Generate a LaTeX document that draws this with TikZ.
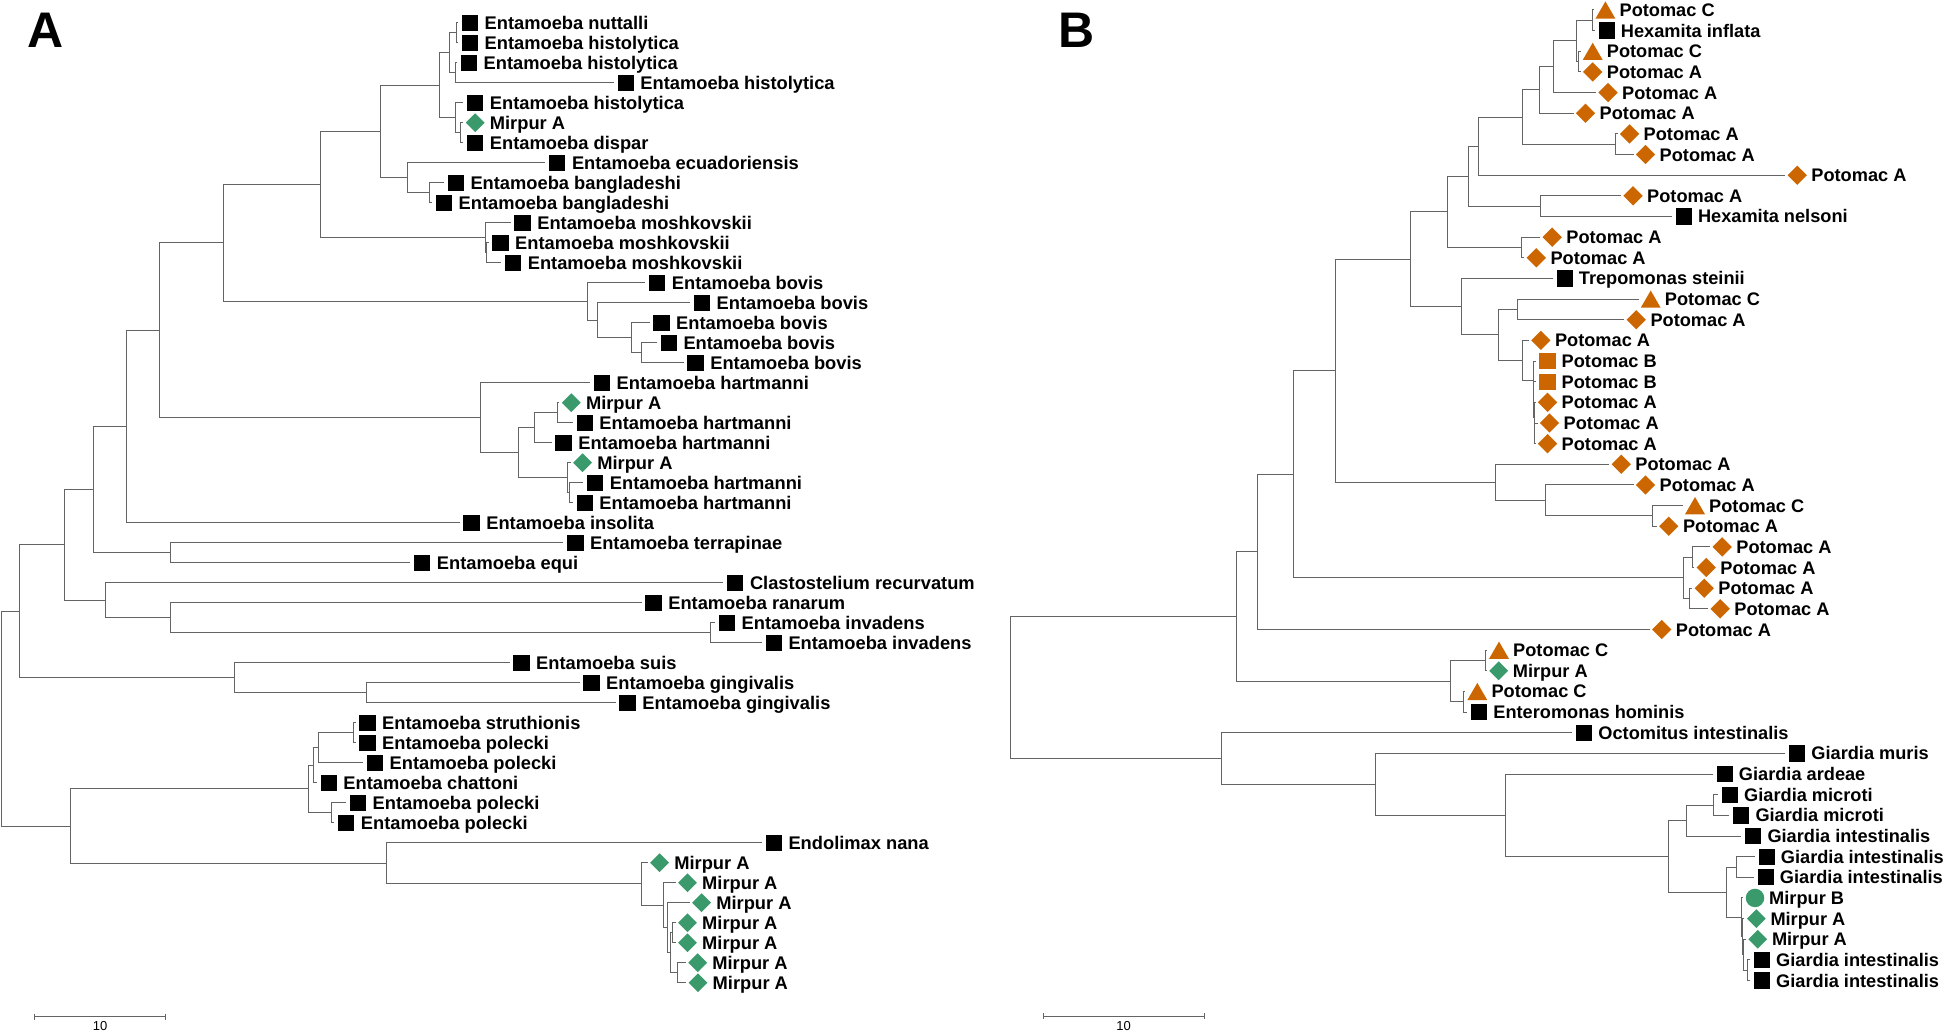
\documentclass[tikz,border=0pt]{standalone}
\usepackage{fontspec}
\setmainfont{Liberation Sans}
\usetikzlibrary{shapes.geometric}
\definecolor{grn}{RGB}{58,154,108}
\definecolor{org}{RGB}{204,102,0}
\definecolor{brc}{RGB}{100,100,100}
\tikzset{
  br/.style={draw=brc, line width=1pt},
  sqk/.style={rectangle, fill=black, minimum size=16.3pt, inner sep=0pt},
  sqo/.style={rectangle, fill=org, minimum size=16.3pt, inner sep=0pt},
  dmg/.style={diamond, fill=grn, minimum size=19pt, inner sep=0pt},
  dmo/.style={diamond, fill=org, minimum size=19.5pt, inner sep=0pt},
  tro/.style={regular polygon, regular polygon sides=3, fill=org, minimum size=23pt, inner sep=0pt, yshift=-2.9pt},
  cig/.style={circle, fill=grn, minimum size=18.5pt, inner sep=0pt},
  lblA/.style={anchor=base west, inner sep=0pt, font=\fontsize{18.3}{21}\selectfont\bfseries},
  lblB/.style={anchor=base west, inner sep=0pt, font=\fontsize{18.2}{21}\selectfont\bfseries},
  panel/.style={anchor=base west, inner sep=0pt, font=\fontsize{50}{50}\selectfont\bfseries},
  sclbl/.style={anchor=base, inner sep=0pt, font=\fontsize{13}{13}\selectfont}
}
\newcommand\leafA[5]{\coordinate (#1) at (#2,#3);
  \node[#4] (#1m) at ([xshift=12pt]#1) {};
  \node[lblA] (#1t) at ([xshift=26.5pt,yshift=-6.5pt]#1) {#5};}
\newcommand\leafB[5]{\coordinate (#1) at (#2,#3);
  \node[#4] (#1m) at ([xshift=12pt]#1) {};
  \node[lblB] (#1t) at ([xshift=26pt,yshift=-6.5pt]#1) {#5};}
\newcommand\IN[3]{\coordinate (#1) at (#2,#3);}
\newcommand\ED[2]{\foreach \ch in {#2} {\draw[br] (#1) |- (\ch);}}
\begin{document}
\begin{tikzpicture}[x=1pt,y=-1pt]
\useasboundingbox (0,0) rectangle (1946,1032);
% ---------------- Tree A ----------------
\node[panel] (labA) at (27,48) {A};
\leafA{a0}{458}{22.7}{sqk}{Entamoeba nuttalli}
\leafA{a1}{458}{42.7}{sqk}{Entamoeba histolytica}
\leafA{a2}{457}{62.7}{sqk}{Entamoeba histolytica}
\leafA{a3}{613.7}{82.7}{sqk}{Entamoeba histolytica}
\leafA{a4}{463.2}{102.7}{sqk}{Entamoeba histolytica}
\leafA{a5}{463.2}{122.7}{dmg}{Mirpur A}
\leafA{a6}{463.2}{142.7}{sqk}{Entamoeba dispar}
\leafA{a7}{545.3}{162.7}{sqk}{Entamoeba ecuadoriensis}
\leafA{a8}{443.8}{182.7}{sqk}{Entamoeba bangladeshi}
\leafA{a9}{432}{202.7}{sqk}{Entamoeba bangladeshi}
\leafA{a10}{510.6}{222.7}{sqk}{Entamoeba moshkovskii}
\leafA{a11}{488.5}{242.7}{sqk}{Entamoeba moshkovskii}
\leafA{a12}{501.1}{262.7}{sqk}{Entamoeba moshkovskii}
\leafA{a13}{645.2}{282.7}{sqk}{Entamoeba bovis}
\leafA{a14}{690}{302.7}{sqk}{Entamoeba bovis}
\leafA{a15}{649.5}{322.7}{sqk}{Entamoeba bovis}
\leafA{a16}{656.8}{342.7}{sqk}{Entamoeba bovis}
\leafA{a17}{683.6}{362.7}{sqk}{Entamoeba bovis}
\leafA{a18}{590}{382.7}{sqk}{Entamoeba hartmanni}
\leafA{a19}{559.3}{402.7}{dmg}{Mirpur A}
\leafA{a20}{572.7}{422.7}{sqk}{Entamoeba hartmanni}
\leafA{a21}{551.6}{442.7}{sqk}{Entamoeba hartmanni}
\leafA{a22}{570.6}{462.7}{dmg}{Mirpur A}
\leafA{a23}{583.2}{482.7}{sqk}{Entamoeba hartmanni}
\leafA{a24}{572.7}{502.7}{sqk}{Entamoeba hartmanni}
\leafA{a25}{459.6}{522.7}{sqk}{Entamoeba insolita}
\leafA{a26}{563.4}{542.7}{sqk}{Entamoeba terrapinae}
\leafA{a27}{410.2}{562.7}{sqk}{Entamoeba equi}
\leafA{a28}{723.3}{582.7}{sqk}{Clastostelium recurvatum}
\leafA{a29}{641.6}{602.7}{sqk}{Entamoeba ranarum}
\leafA{a30}{715}{622.7}{sqk}{Entamoeba invadens}
\leafA{a31}{761.8}{642.7}{sqk}{Entamoeba invadens}
\leafA{a32}{509.5}{662.7}{sqk}{Entamoeba suis}
\leafA{a33}{579.5}{682.7}{sqk}{Entamoeba gingivalis}
\leafA{a34}{615.6}{702.7}{sqk}{Entamoeba gingivalis}
\leafA{a35}{355.5}{722.7}{sqk}{Entamoeba struthionis}
\leafA{a36}{355.5}{742.7}{sqk}{Entamoeba polecki}
\leafA{a37}{363}{762.7}{sqk}{Entamoeba polecki}
\leafA{a38}{316.7}{782.7}{sqk}{Entamoeba chattoni}
\leafA{a39}{346}{802.7}{sqk}{Entamoeba polecki}
\leafA{a40}{334.2}{822.7}{sqk}{Entamoeba polecki}
\leafA{a41}{761.8}{842.7}{sqk}{Endolimax nana}
\leafA{a42}{647.6}{862.7}{dmg}{Mirpur A}
\leafA{a43}{675.5}{882.7}{dmg}{Mirpur A}
\leafA{a44}{689.6}{902.7}{dmg}{Mirpur A}
\leafA{a45}{675.5}{922.7}{dmg}{Mirpur A}
\leafA{a46}{675.5}{942.7}{dmg}{Mirpur A}
\leafA{a47}{685.7}{962.7}{dmg}{Mirpur A}
\leafA{a48}{686}{982.7}{dmg}{Mirpur A}
\IN{na}{456}{32.7}
\IN{nb}{455}{72.7}
\IN{nc}{449}{52.7}
\IN{ne}{460.5}{132.7}
\IN{nd}{455.3}{117.7}
\IN{nf}{439}{85.2}
\IN{nh}{429}{192.7}
\IN{ng}{407.7}{177.7}
\IN{ni}{380}{131.45}
\IN{nk}{486.8}{252.7}
\IN{nj}{485}{237.7}
\IN{nl}{320}{184.6}
\IN{np}{641.8}{352.7}
\IN{no}{631.7}{337.7}
\IN{nn}{597.3}{320.2}
\IN{nm}{587.5}{301.45}
\IN{nq}{223.3}{243}
\IN{nt}{557}{412.7}
\IN{ns}{534.2}{427.7}
\IN{nv}{569.4}{492.7}
\IN{nu}{567.5}{477.7}
\IN{nr}{518.4}{452.7}
\IN{nw}{480.5}{417.7}
\IN{nx}{159.3}{330.35}
\IN{ny}{126}{426.5}
\IN{nz}{170.7}{552.7}
\IN{naa}{93.3}{489.6}
\IN{nad}{710.2}{632.7}
\IN{nac}{170.7}{617.7}
\IN{nab}{105}{600.2}
\IN{nae}{64.3}{544.9}
\IN{nag}{366}{692.7}
\IN{naf}{234.3}{677.7}
\IN{nah}{19}{611.3}
\IN{p1}{353.3}{732.7}
\IN{p2}{318.3}{747.7}
\IN{p3}{313.3}{765.2}
\IN{p4}{331}{812.7}
\IN{p5}{308.3}{788.95}
\IN{m6}{677.2}{972.7}
\IN{m5}{672.5}{932.7}
\IN{m4}{670.2}{952.7}
\IN{m3}{667.4}{927.7}
\IN{m2}{663.2}{905.2}
\IN{m1}{641.8}{883.95}
\IN{e1}{386}{863.3}
\IN{lowA}{70}{826.1}
\IN{rootA}{1.7}{718.7}
\ED{na}{a0,a1}
\ED{nb}{a2,a3}
\ED{nc}{na,nb}
\ED{ne}{a5,a6}
\ED{nd}{a4,ne}
\ED{nf}{nc,nd}
\ED{nh}{a8,a9}
\ED{ng}{a7,nh}
\ED{ni}{nf,ng}
\ED{nk}{a11,a12}
\ED{nj}{a10,nk}
\ED{nl}{ni,nj}
\ED{np}{a16,a17}
\ED{no}{a15,np}
\ED{nn}{a14,no}
\ED{nm}{a13,nn}
\ED{nq}{nl,nm}
\ED{nt}{a19,a20}
\ED{ns}{nt,a21}
\ED{nv}{a23,a24}
\ED{nu}{a22,nv}
\ED{nr}{ns,nu}
\ED{nw}{a18,nr}
\ED{nx}{nq,nw}
\ED{ny}{nx,a25}
\ED{nz}{a26,a27}
\ED{naa}{ny,nz}
\ED{nad}{a30,a31}
\ED{nac}{a29,nad}
\ED{nab}{a28,nac}
\ED{nae}{naa,nab}
\ED{nag}{a33,a34}
\ED{naf}{a32,nag}
\ED{nah}{nae,naf}
\ED{p1}{a35,a36}
\ED{p2}{p1,a37}
\ED{p3}{p2,a38}
\ED{p4}{a39,a40}
\ED{p5}{p3,p4}
\ED{m6}{a47,a48}
\ED{m5}{a45,a46}
\ED{m4}{m5,m6}
\ED{m3}{a44,m4}
\ED{m2}{a43,m3}
\ED{m1}{a42,m2}
\ED{e1}{a41,m1}
\ED{lowA}{p5,e1}
\ED{rootA}{nah,lowA}
% scale bar A
\coordinate (sa1) at (34.7,1016.7);
\coordinate (sa2) at (165.7,1016.7);
\draw[br] (sa1) -- (sa2);
\draw[br] ([yshift=3pt]sa1) -- ([yshift=-3pt]sa1);
\draw[br] ([yshift=3pt]sa2) -- ([yshift=-3pt]sa2);
\node[sclbl] (sla) at (100.2,1030) {10};
% ---------------- Tree B ----------------
\node[panel] (labB) at (1058,48) {B};
\leafB{b0}{1593.4}{10}{tro}{Potomac C}
\leafB{b1}{1594.7}{30.65}{sqk}{Hexamita inflata}
\leafB{b2}{1580.7}{51.3}{tro}{Potomac C}
\leafB{b3}{1580.7}{71.95}{dmo}{Potomac A}
\leafB{b4}{1596}{92.6}{dmo}{Potomac A}
\leafB{b5}{1573.5}{113.25}{dmo}{Potomac A}
\leafB{b6}{1617.5}{133.9}{dmo}{Potomac A}
\leafB{b7}{1633.5}{154.55}{dmo}{Potomac A}
\leafB{b8}{1785.2}{175.2}{dmo}{Potomac A}
\leafB{b9}{1621}{195.85}{dmo}{Potomac A}
\leafB{b10}{1671.8}{216.5}{sqk}{Hexamita nelsoni}
\leafB{b11}{1540.2}{237.15}{dmo}{Potomac A}
\leafB{b12}{1524.3}{257.8}{dmo}{Potomac A}
\leafB{b13}{1552.7}{278.45}{sqk}{Trepomonas steinii}
\leafB{b14}{1638.7}{299.1}{tro}{Potomac C}
\leafB{b15}{1624.3}{319.75}{dmo}{Potomac A}
\leafB{b16}{1528.8}{340.4}{dmo}{Potomac A}
\leafB{b17}{1535.5}{361.05}{sqo}{Potomac B}
\leafB{b18}{1535.5}{381.7}{sqo}{Potomac B}
\leafB{b19}{1535.5}{402.35}{dmo}{Potomac A}
\leafB{b20}{1537.5}{423}{dmo}{Potomac A}
\leafB{b21}{1535.5}{443.65}{dmo}{Potomac A}
\leafB{b22}{1609.2}{464.3}{dmo}{Potomac A}
\leafB{b23}{1633.5}{484.95}{dmo}{Potomac A}
\leafB{b24}{1683}{505.6}{tro}{Potomac C}
\leafB{b25}{1656.8}{526.25}{dmo}{Potomac A}
\leafB{b26}{1710.2}{546.9}{dmo}{Potomac A}
\leafB{b27}{1694.2}{567.55}{dmo}{Potomac A}
\leafB{b28}{1692.2}{588.2}{dmo}{Potomac A}
\leafB{b29}{1708.2}{608.85}{dmo}{Potomac A}
\leafB{b30}{1649.7}{629.5}{dmo}{Potomac A}
\leafB{b31}{1487}{650.15}{tro}{Potomac C}
\leafB{b32}{1486.7}{670.8}{dmg}{Mirpur A}
\leafB{b33}{1465.3}{691.45}{tro}{Potomac C}
\leafB{b34}{1467.2}{712.1}{sqk}{Enteromonas hominis}
\leafB{b35}{1572.2}{732.75}{sqk}{Octomitus intestinalis}
\leafB{b36}{1785.2}{753.4}{sqk}{Giardia muris}
\leafB{b37}{1712.7}{774.05}{sqk}{Giardia ardeae}
\leafB{b38}{1718}{794.7}{sqk}{Giardia microti}
\leafB{b39}{1729.3}{815.35}{sqk}{Giardia microti}
\leafB{b40}{1741.3}{836}{sqk}{Giardia intestinalis}
\leafB{b41}{1754.7}{856.65}{sqk}{Giardia intestinalis}
\leafB{b42}{1753.7}{877.3}{sqk}{Giardia intestinalis}
\leafB{b43}{1743}{897.95}{cig}{Mirpur B}
\leafB{b44}{1744.3}{918.6}{dmg}{Mirpur A}
\leafB{b45}{1745.8}{939.25}{dmg}{Mirpur A}
\leafB{b46}{1750}{959.9}{sqk}{Giardia intestinalis}
\leafB{b47}{1750}{980.55}{sqk}{Giardia intestinalis}
\IN{b01}{1592.7}{20.3}
\IN{b23n}{1578.5}{61.6}
\IN{bX1}{1576.7}{40.95}
\IN{bX2}{1553.3}{66.8}
\IN{bX3}{1539}{90}
\IN{b67}{1615.7}{144.2}
\IN{bX4}{1522.7}{117.1}
\IN{bX5}{1478.3}{146.2}
\IN{b910}{1540}{206.2}
\IN{bX6}{1468.3}{176.2}
\IN{b1112}{1521.7}{247.5}
\IN{bX7}{1447.3}{211.9}
\IN{b1415}{1517.7}{309.4}
\IN{q4}{1534.5}{433.3}
\IN{q3}{1534}{417.8}
\IN{q2}{1533.6}{399.8}
\IN{q1}{1533.3}{380.4}
\IN{bX8}{1522.7}{360.4}
\IN{bX9}{1498.5}{334.9}
\IN{bX10}{1461}{306.7}
\IN{bX11}{1410}{259.3}
\IN{b2425}{1652.7}{515.9}
\IN{b23b}{1545}{500.4}
\IN{bX12}{1495.7}{482.35}
\IN{bX13}{1335.7}{370.8}
\IN{b2627}{1692.7}{557.2}
\IN{b2829}{1689.3}{598.5}
\IN{bX14}{1683.3}{577.9}
\IN{bX15}{1293.3}{474.35}
\IN{bX16}{1257.7}{551.9}
\IN{b3132}{1485}{660.5}
\IN{b3334}{1463.3}{701.8}
\IN{bX17}{1450}{681.1}
\IN{bX18}{1236}{616.5}
\IN{b3839}{1713.3}{805}
\IN{g1}{1686.7}{820.5}
\IN{b4142}{1736.7}{867}
\IN{m4b}{1747.7}{970.2}
\IN{m3b}{1743.3}{954.7}
\IN{m2b}{1742.3}{936.65}
\IN{m1b}{1741.7}{917.3}
\IN{g2}{1726.7}{892.15}
\IN{g3}{1668.3}{856.3}
\IN{g4}{1505}{815.2}
\IN{g5}{1375}{784.3}
\IN{g6}{1221.7}{758.5}
\IN{rootB}{1010.7}{687.5}
\ED{b01}{b0,b1}
\ED{b23n}{b2,b3}
\ED{bX1}{b01,b23n}
\ED{bX2}{bX1,b4}
\ED{bX3}{bX2,b5}
\ED{b67}{b6,b7}
\ED{bX4}{bX3,b67}
\ED{bX5}{bX4,b8}
\ED{b910}{b9,b10}
\ED{bX6}{bX5,b910}
\ED{b1112}{b11,b12}
\ED{bX7}{bX6,b1112}
\ED{b1415}{b14,b15}
\ED{q4}{b20,b21}
\ED{q3}{b19,q4}
\ED{q2}{b18,q3}
\ED{q1}{b17,q2}
\ED{bX8}{b16,q1}
\ED{bX9}{b1415,bX8}
\ED{bX10}{b13,bX9}
\ED{bX11}{bX7,bX10}
\ED{b2425}{b24,b25}
\ED{b23b}{b23,b2425}
\ED{bX12}{b22,b23b}
\ED{bX13}{bX11,bX12}
\ED{b2627}{b26,b27}
\ED{b2829}{b28,b29}
\ED{bX14}{b2627,b2829}
\ED{bX15}{bX13,bX14}
\ED{bX16}{bX15,b30}
\ED{b3132}{b31,b32}
\ED{b3334}{b33,b34}
\ED{bX17}{b3132,b3334}
\ED{bX18}{bX16,bX17}
\ED{b3839}{b38,b39}
\ED{g1}{b3839,b40}
\ED{b4142}{b41,b42}
\ED{m4b}{b46,b47}
\ED{m3b}{b45,m4b}
\ED{m2b}{b44,m3b}
\ED{m1b}{b43,m2b}
\ED{g2}{b4142,m1b}
\ED{g3}{g1,g2}
\ED{g4}{b37,g3}
\ED{g5}{b36,g4}
\ED{g6}{b35,g5}
\ED{rootB}{bX18,g6}
% scale bar B
\coordinate (sb1) at (1043.3,1016);
\coordinate (sb2) at (1204,1016);
\draw[br] (sb1) -- (sb2);
\draw[br] ([yshift=3pt]sb1) -- ([yshift=-3pt]sb1);
\draw[br] ([yshift=3pt]sb2) -- ([yshift=-3pt]sb2);
\node[sclbl] (slb) at (1123.7,1030) {10};
\end{tikzpicture}
\end{document}
